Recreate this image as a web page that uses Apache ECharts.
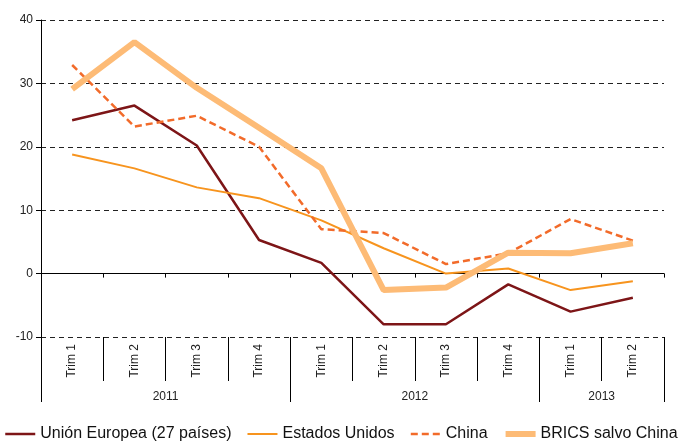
<!DOCTYPE html>
<html>
<head>
<meta charset="utf-8">
<script src="https://cdn.jsdelivr.net/npm/echarts@6/dist/echarts.min.js"></script>
<style>html,body{margin:0;padding:0;background:#fff;}#c{width:682px;height:442px;}</style>
</head>
<body>
<div id="c"></div>
<script>
const quarters = ['Trim 1','Trim 2','Trim 3','Trim 4','Trim 1','Trim 2','Trim 3','Trim 4','Trim 1','Trim 2'];
const years = ['2011','2012','2013'];
const yearSpans = [4, 4, 2];
const yTicks = [-10, 0, 10, 20, 30, 40];

const seriesNames = ['Unión Europea (27 países)', 'Estados Unidos', 'China', 'BRICS salvo China'];
const ue = [24.2, 26.5, 20.2, 5.3, 1.7, -8.0, -8.0, -1.7, -6.0, -3.8];
const usa = [18.8, 16.6, 13.6, 11.9, 8.4, 4.0, 0.0, 0.8, -2.6, -1.2];
const china = [32.9, 23.2, 24.9, 20.0, 7.0, 6.4, 1.5, 3.2, 8.6, 5.2];
const brics = [29.1, 36.5, 29.3, 23.0, 16.6, -2.6, -2.2, 3.3, 3.2, 4.8];

// year boundaries / centres derived from spans
const yearStarts = [];
const yearCentres = {};
let acc = 0;
yearSpans.forEach((s, i) => { yearStarts.push(acc); yearCentres[acc + s / 2] = years[i]; acc += s; });

const chart = echarts.init(document.getElementById('c'));
const font = 'Liberation Sans, Arial, sans-serif';
chart.setOption({
  animation: false,
  grid: { left: 41, right: 18, top: 20, bottom: 105 },
  legend: {
    left: 4, top: 426, width: 678, padding: 0, itemGap: 15, itemWidth: 30, itemHeight: 14,
    textStyle: { fontFamily: font, fontSize: 16, color: '#111' },
    lineStyle: { width: 'inherit' },
    itemStyle: { opacity: 0 },
    data: seriesNames
  },
  xAxis: [
    {
      type: 'category', data: quarters, boundaryGap: true,
      axisLine: { onZero: true, lineStyle: { color: '#000', width: 1 } },
      axisTick: { show: true, length: 4, lineStyle: { color: '#000' } },
      axisLabel: { show: false }, splitLine: { show: false }
    },
    {
      type: 'category', data: quarters, boundaryGap: true, position: 'bottom',
      axisLine: { show: false, onZero: false },
      axisTick: { show: true, length: 44, lineStyle: { color: '#000' } },
      axisLabel: { rotate: 90, margin: 7, fontFamily: font, fontSize: 12, color: '#222', interval: 0 },
      splitLine: { show: false }
    },
    {
      type: 'value', min: 0, max: quarters.length, interval: 1, position: 'bottom',
      axisLine: { show: false, onZero: false }, axisTick: { show: false }, splitLine: { show: false },
      axisLabel: { margin: 54, fontFamily: font, fontSize: 12, color: '#222',
        formatter: v => yearCentres[v] || '' , showMinLabel: true, showMaxLabel: true }
    },
    {
      type: 'category', data: quarters, boundaryGap: true, position: 'bottom',
      axisLine: { show: false, onZero: false },
      axisTick: { show: true, length: 65, lineStyle: { color: '#000' },
        interval: (idx) => yearStarts.indexOf(idx) >= 0 },
      axisLabel: { show: false }, splitLine: { show: false }
    }
  ],
  yAxis: {
    type: 'value', min: yTicks[0], max: yTicks[yTicks.length - 1], interval: 10,
    axisLine: { show: true, lineStyle: { color: '#000', width: 1 } },
    axisTick: { show: true, length: 5, lineStyle: { color: '#000' } },
    axisLabel: { margin: 8, fontFamily: font, fontSize: 12, color: '#222' },
    splitLine: { show: true, lineStyle: { color: '#222', type: [5, 4], width: 1 } }
  },
  series: [
    { name: seriesNames[0], type: 'line', data: ue, symbol: 'none', xAxisIndex: 0,
      lineStyle: { color: '#7d1517', width: 2.5 }, itemStyle: { color: '#7d1517' } },
    { name: seriesNames[1], type: 'line', data: usa, symbol: 'none', xAxisIndex: 0,
      lineStyle: { color: '#f7941e', width: 2 }, itemStyle: { color: '#f7941e' } },
    { name: seriesNames[2], type: 'line', data: china, symbol: 'none', xAxisIndex: 0,
      lineStyle: { color: '#f26b2a', width: 2.5, type: [7, 4] }, itemStyle: { color: '#f26b2a' } },
    { name: seriesNames[3], type: 'line', data: brics, symbol: 'none', xAxisIndex: 0,
      lineStyle: { color: '#fdbb76', width: 6 }, itemStyle: { color: '#fdbb76' } }
  ]
});
</script>
</body>
</html>
